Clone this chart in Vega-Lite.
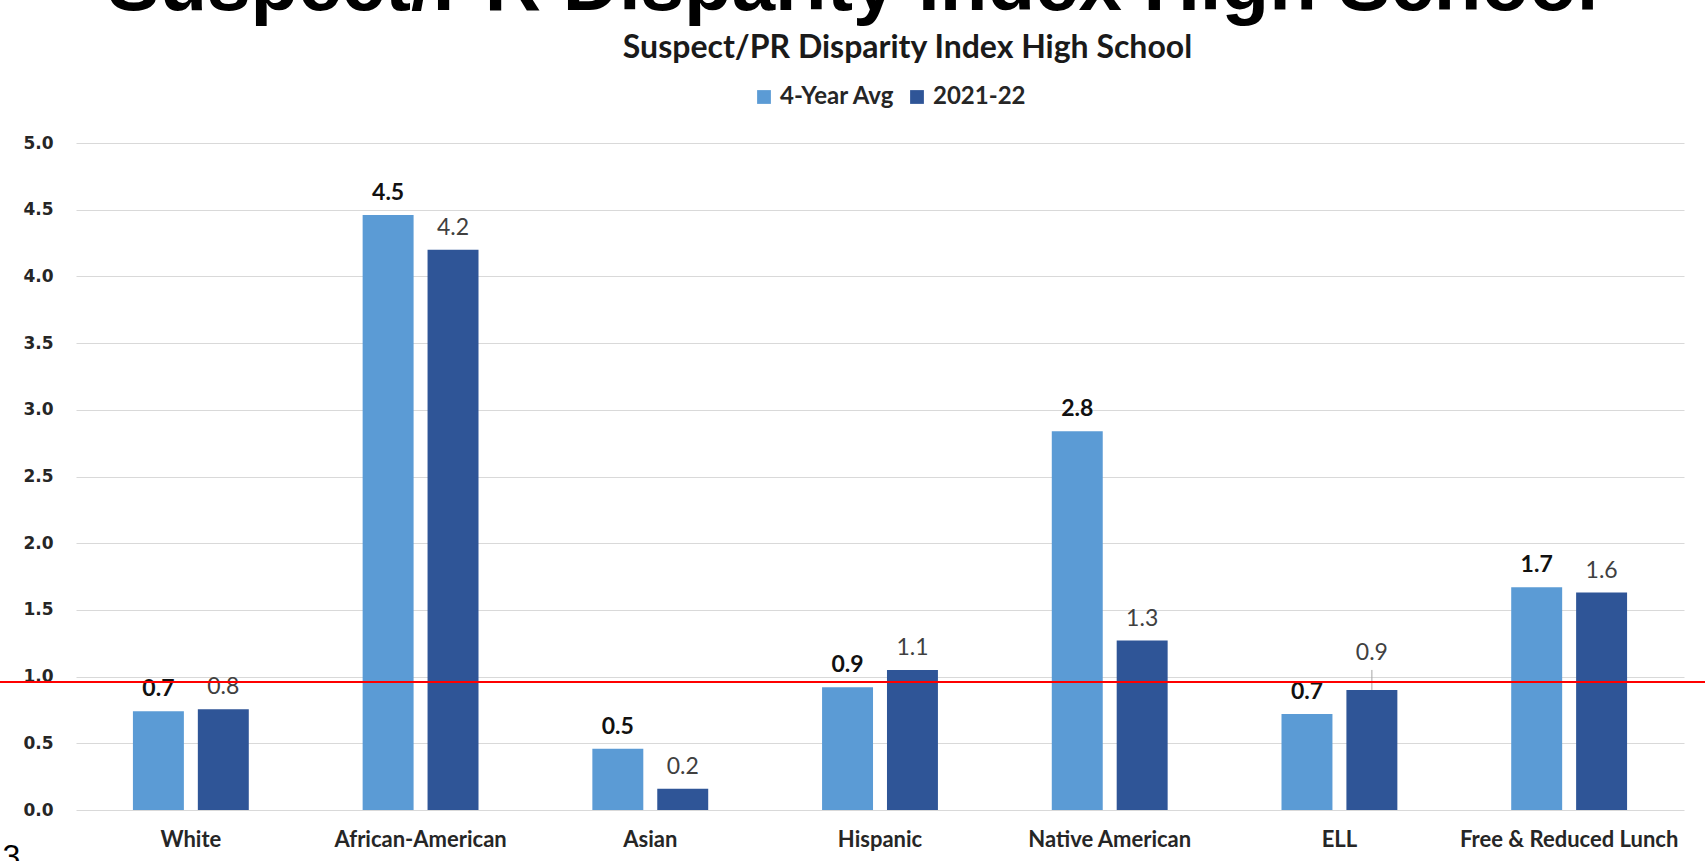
{
  "$schema": "https://vega.github.io/schema/vega-lite/v6.json",
  "width": 1608,
  "height": 667,
  "autosize": "none",
  "padding": {"left": 76, "top": 143, "right": 21, "bottom": 51},
  "background": "white",
  "title": {
    "text": "Suspect/PR Disparity Index High School",
    "font": "Liberation Sans",
    "fontSize": 78,
    "fontWeight": "bold",
    "color": "#000000",
    "anchor": "middle",
    "frame": "group",
    "dx": -27,
    "offset": 5
  },
  "data": {
    "values": [
      {"group": "White", "series": "4-Year Avg", "value": 0.74},
      {"group": "White", "series": "2021-22", "value": 0.755},
      {"group": "African-American", "series": "4-Year Avg", "value": 4.46},
      {"group": "African-American", "series": "2021-22", "value": 4.2},
      {"group": "Asian", "series": "4-Year Avg", "value": 0.46},
      {"group": "Asian", "series": "2021-22", "value": 0.16},
      {"group": "Hispanic", "series": "4-Year Avg", "value": 0.92},
      {"group": "Hispanic", "series": "2021-22", "value": 1.05},
      {"group": "Native American", "series": "4-Year Avg", "value": 2.84},
      {"group": "Native American", "series": "2021-22", "value": 1.27},
      {"group": "ELL", "series": "4-Year Avg", "value": 0.72},
      {"group": "ELL", "series": "2021-22", "value": 0.9},
      {"group": "Free & Reduced Lunch", "series": "4-Year Avg", "value": 1.67},
      {"group": "Free & Reduced Lunch", "series": "2021-22", "value": 1.63}
    ]
  },
  "resolve": {"scale": {"x": "independent"}},
  "layer": [
    {
      "encoding": {
        "x": {
          "field": "group",
          "type": "nominal",
          "sort": null,
          "scale": {"paddingInner": 0, "paddingOuter": 0},
          "axis": {
            "title": "3",
            "titleFont": "Liberation Sans",
            "titleFontSize": 32,
            "titleFontWeight": "normal",
            "titleColor": "#000000",
            "titleAlign": "left",
            "titleBaseline": "alphabetic",
            "titleX": -74,
            "titleY": 56,
            "labelFont": "Lato",
            "labelFontSize": 22,
            "labelFontWeight": "bold",
            "labelColor": "#262626",
            "labelAngle": 0,
            "labelPadding": 19,
            "labelLimit": 400,
            "ticks": false,
            "domain": false
          }
        },
        "xOffset": {
          "field": "series",
          "sort": ["4-Year Avg", "2021-22"],
          "scale": {"paddingInner": 0.215, "paddingOuter": 0.877}
        }
      },
      "layer": [
        {
          "mark": {"type": "bar"},
          "encoding": {
            "y": {
              "field": "value",
              "type": "quantitative",
              "scale": {"domain": [0, 5]},
              "axis": {
                "title": "Suspect/PR Disparity Index High School",
                "titleAngle": 0,
                "titleAlign": "center",
                "titleBaseline": "alphabetic",
                "titleX": 831,
                "titleY": -86,
                "titleFont": "Lato",
                "titleFontSize": 32,
                "titleFontWeight": "bold",
                "titleColor": "#1a1a1a",
                "values": [0, 0.5, 1, 1.5, 2, 2.5, 3, 3.5, 4, 4.5, 5],
                "format": ".1f",
                "grid": true,
                "gridColor": "#d9d9d9",
                "gridWidth": 1,
                "domain": false,
                "ticks": false,
                "labelFont": "DejaVu Sans",
                "labelFontSize": 17,
                "labelFontWeight": "bold",
                "labelColor": "#262626",
                "labelPadding": 23
              }
            },
            "color": {
              "field": "series",
              "type": "nominal",
              "sort": ["4-Year Avg", "2021-22"],
              "scale": {"domain": ["4-Year Avg", "2021-22"], "range": ["#5B9BD5", "#2F5597"]},
              "legend": {
                "title": null,
                "orient": "none",
                "legendX": 676,
                "legendY": -58,
                "direction": "horizontal",
                "padding": 0,
                "symbolType": "square",
                "symbolSize": 190,
                "symbolStrokeWidth": 0,
                "labelFont": "Lato",
                "labelFontSize": 24,
                "labelFontWeight": "bold",
                "labelColor": "#262626",
                "labelOffset": 4,
                "columnPadding": 10
              }
            }
          }
        },
        {
          "transform": [{"filter": "datum.series == '4-Year Avg'"}],
          "mark": {"type": "text", "baseline": "alphabetic", "dy": -15, "font": "Lato", "fontSize": 23, "fontWeight": "bold", "color": "#111111"},
          "encoding": {
            "y": {"field": "value", "type": "quantitative"},
            "text": {"field": "value", "type": "quantitative", "format": ".1f"}
          }
        },
        {
          "transform": [{"filter": "datum.series == '2021-22' && datum.group != 'ELL'"}],
          "mark": {"type": "text", "baseline": "alphabetic", "dy": -15, "font": "Lato", "fontSize": 23, "fontWeight": "normal", "color": "#404040"},
          "encoding": {
            "y": {"field": "value", "type": "quantitative"},
            "text": {"field": "value", "type": "quantitative", "format": ".1f"}
          }
        },
        {
          "transform": [{"filter": "datum.series == '2021-22' && datum.group == 'ELL'"}],
          "mark": {"type": "text", "baseline": "alphabetic", "dy": -30, "font": "Lato", "fontSize": 23, "fontWeight": "normal", "color": "#404040"},
          "encoding": {
            "y": {"field": "value", "type": "quantitative"},
            "text": {"field": "value", "type": "quantitative", "format": ".1f"}
          }
        },
        {
          "transform": [{"filter": "datum.series == '2021-22' && datum.group == 'ELL'"}],
          "mark": {"type": "rule", "color": "#a6a6a6", "strokeWidth": 1},
          "encoding": {
            "y": {"field": "value", "type": "quantitative"},
            "y2": {"datum": 1.05}
          }
        }
      ]
    },
    {
      "data": {"values": [{"threshold": 0.96, "from": -0.34, "to": 7.1}]},
      "mark": {"type": "rule", "color": "#ff0000", "strokeWidth": 2},
      "encoding": {
        "x": {"field": "from", "type": "quantitative", "scale": {"domain": [0, 7], "nice": false, "zero": false}, "axis": null},
        "x2": {"field": "to"},
        "y": {"field": "threshold", "type": "quantitative"}
      }
    }
  ],
  "config": {
    "view": {"stroke": null}
  }
}
